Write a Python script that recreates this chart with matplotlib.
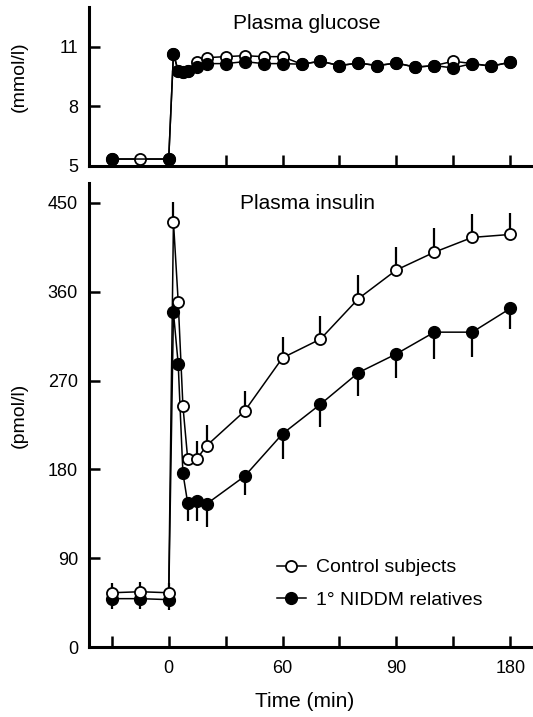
import matplotlib
matplotlib.use("Agg")
import matplotlib.pyplot as plt

plt.rcParams['font.family'] = ['Liberation Sans', 'DejaVu Sans']

# plasma glucose (mmol/l)
glu_t_ctrl = [-30, -15, 0, 2.5, 5, 7.5, 10, 15, 20, 30, 40, 50, 60, 70, 80, 90,
              100, 110, 120, 130, 140, 150, 160, 170, 180]
glu_ctrl = [5.35, 5.35, 5.35, 10.65, 9.78, 9.75, 9.78, 10.25, 10.45, 10.5, 10.55, 10.5,
            10.5, 10.12, 10.27, 10.05, 10.18, 10.05, 10.18, 9.97, 10.05, 10.27, 10.15,
            10.02, 10.22]
glu_t_rel = [-30, 0, 2.5, 5, 7.5, 10, 15, 20, 30, 40, 50, 60, 70, 80, 90,
             100, 110, 120, 130, 140, 150, 160, 170, 180]
glu_rel = [5.35, 5.35, 10.65, 9.78, 9.75, 9.78, 10.0, 10.15, 10.15, 10.25, 10.15,
           10.15, 10.12, 10.27, 10.05, 10.18, 10.05, 10.18, 9.97, 10.05, 9.93, 10.15,
           10.02, 10.22]

# plasma insulin (pmol/l)
ins_t = [-30, -15, 0, 2.5, 5, 7.5, 10, 15, 20, 40, 60, 80, 100, 120, 140, 160, 180]
ins_ctrl = [55, 56, 55, 431, 350, 244, 191, 191, 204, 239, 293, 312, 353, 382, 400, 415, 418]
ins_ctrl_err = [10, 10, 10, 20, 0, 0, 0, 18, 21, 20, 21, 23, 24, 23, 25, 24, 22]
ins_rel = [49, 49, 48, 339, 287, 176, 146, 148, 145, 173, 216, 246, 278, 297, 319, 319, 343]
ins_rel_err = [10, 10, 10, 0, 0, 0, 18, 20, 23, 19, 25, 23, 24, 24, 27, 25, 21]

# tick labels as printed on the original figure
x_ticks = [-30, 0, 30, 60, 90, 120, 150, 180]
x_tick_txt = ['', '0', '', '60', '', '90', '', '180']

fig = plt.figure(figsize=(5.33, 7.17), dpi=100)
ax1 = fig.add_axes([0.167, 0.7685, 0.833, 0.2218])
ax2 = fig.add_axes([0.167, 0.0976, 0.833, 0.647])

open_kw = dict(color='black', lw=1.1, marker='o', ms=8, mfc='white', mec='black', mew=1.3)
fill_kw = dict(color='black', lw=1.1, marker='o', ms=8.5, mfc='black', mec='black')

for ax in (ax1, ax2):
    for s in ('top', 'right'):
        ax.spines[s].set_visible(False)
    for s in ('left', 'bottom'):
        ax.spines[s].set_linewidth(2.2)
    ax.set_xlim(-42, 192)
    ax.set_xticks(x_ticks)
    ax.tick_params(direction='in', length=8, width=1.8, labelsize=13, pad=8)

# glucose panel
ax1.plot(glu_t_ctrl, glu_ctrl, zorder=3, **open_kw)
ax1.plot(glu_t_rel, glu_rel, zorder=4, **fill_kw)
ax1.set_ylim(5, 13)
ax1.set_yticks([5, 8, 11])
ax1.set_xticklabels([])
ax1.set_ylabel('(mmol/l)', fontsize=14)
ax1.yaxis.set_label_coords(-0.137, 0.56)
ax1.text(0.491, 0.893, 'Plasma glucose', transform=ax1.transAxes,
         ha='center', va='center', fontsize=15)

# insulin panel
ax2.errorbar(ins_t, ins_rel, yerr=[ins_rel_err, [0] * len(ins_t)], fmt='none',
             ecolor='black', elinewidth=1.6, capsize=0, zorder=2)
ax2.errorbar(ins_t, ins_ctrl, yerr=[[0] * len(ins_t), ins_ctrl_err], fmt='none',
             ecolor='black', elinewidth=1.6, capsize=0, zorder=2)
ax2.plot(ins_t, ins_rel, zorder=3, label='1° NIDDM relatives', **fill_kw)
ax2.plot(ins_t, ins_ctrl, zorder=4, label='Control subjects', **open_kw)
ax2.set_ylim(0, 470)
ax2.set_yticks([0, 90, 180, 270, 360, 450])
ax2.set_xticklabels(x_tick_txt)
ax2.tick_params(axis='x', pad=9)
ax2.set_ylabel('(pmol/l)', fontsize=14)
ax2.yaxis.set_label_coords(-0.137, 0.5)
ax2.set_xlabel('Time (min)', fontsize=15)
ax2.xaxis.set_label_coords(0.486, -0.097)
ax2.text(0.34, 0.957, 'Plasma insulin', transform=ax2.transAxes,
         ha='left', va='center', fontsize=15)

h, l = ax2.get_legend_handles_labels()
ax2.legend(h[::-1], l[::-1], loc='upper left', bbox_to_anchor=(0.423, 0.19),
           frameon=False, fontsize=14, handlelength=1.5, handletextpad=0.5,
           labelspacing=0.75, borderpad=0, borderaxespad=0)

fig.savefig('out.png', dpi=100)
